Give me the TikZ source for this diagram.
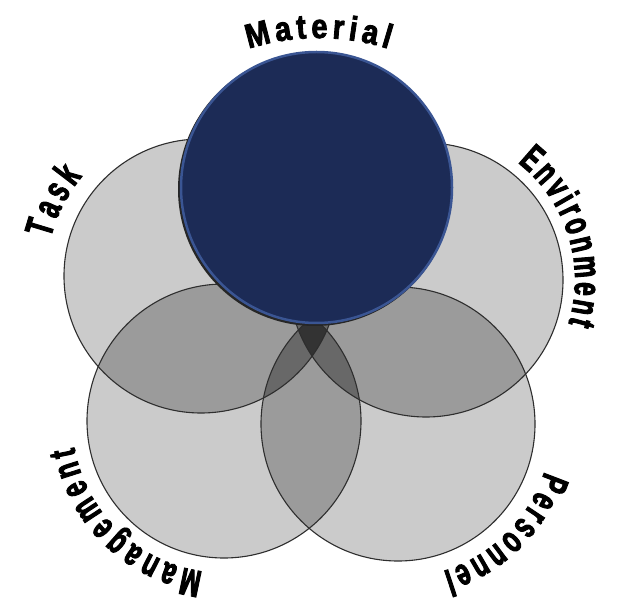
\documentclass[tikz,border=0pt]{standalone}
\usepackage{fontspec}
\usetikzlibrary{decorations.text}
\newfontfamily\lblA{Liberation Sans}[FakeStretch=0.85, FakeBold=2.5]
\newfontfamily\lblB{Liberation Sans}[FakeStretch=0.64, FakeBold=2.5]
\definecolor{navy}{HTML}{1C2B56}
\definecolor{navyedge}{HTML}{3A5593}
\definecolor{ringc}{HTML}{2E2E2E}
\definecolor{gA}{HTML}{CBCBCB}
\definecolor{gB}{HTML}{9B9B9B}
\definecolor{gC}{HTML}{686868}
\definecolor{gD}{HTML}{333333}
\tikzset{
  ringline/.style={draw=ringc, line width=1.1pt},
  labelarc/.style={decorate, decoration={text along path, text align={fit to path}, text={#1}}}
}
\begin{document}
\begin{tikzpicture}[x=1pt,y=1pt]
\useasboundingbox (0,0) rectangle (618,603);
\fill[white] (0,0) rectangle (618,603);
\coordinate (cT) at (201,327);
\coordinate (cE) at (426,323);
\coordinate (cM) at (224,182);
\coordinate (cP) at (398,179);
\coordinate (cMat) at (316.5,415.5);
\coordinate (cSh) at (314.8,413.8);
\def\ciT{(cT) circle[radius=137pt]}
\def\ciE{(cE) circle[radius=137pt]}
\def\ciM{(cM) circle[radius=137pt]}
\def\ciP{(cP) circle[radius=137pt]}
% single
\fill[gA] \ciT; \fill[gA] \ciE; \fill[gA] \ciM; \fill[gA] \ciP;
% pairs
\begin{scope}\clip \ciT; \fill[gB] \ciE; \fill[gB] \ciM; \fill[gB] \ciP; \end{scope}
\begin{scope}\clip \ciE; \fill[gB] \ciM; \fill[gB] \ciP; \end{scope}
\begin{scope}\clip \ciM; \fill[gB] \ciP; \end{scope}
% triples
\begin{scope}\clip \ciT; \clip \ciE; \fill[gC] \ciM; \fill[gC] \ciP; \end{scope}
\begin{scope}\clip \ciT; \clip \ciM; \fill[gC] \ciP; \end{scope}
\begin{scope}\clip \ciE; \clip \ciM; \fill[gC] \ciP; \end{scope}
% quadruple
\begin{scope}\clip \ciT; \clip \ciE; \clip \ciM; \fill[gD] \ciP; \end{scope}
% outlines
\path[ringline] \ciT; \path[ringline] \ciE; \path[ringline] \ciM; \path[ringline] \ciP;
% material
\fill[black!85] (cSh) circle[radius=136.8pt];
\draw[navyedge, line width=2.5pt, fill=navy] (cMat) circle[radius=135.5pt];
% labels
\path[labelarc={|\lblA\bfseries\fontsize{34}{34}\selectfont|Material}]
  ([shift={(318.5,333)}]107.5:232pt) arc[start angle=107.5, end angle=72.5, radius=232pt];
\path[labelarc={|\lblB\bfseries\fontsize{39}{39}\selectfont|Task}]
  ([shift={(cT)}]166:155pt) arc[start angle=166, end angle=140, radius=155pt];
\path[labelarc={|\lblB\bfseries\fontsize{38}{38}\selectfont|Environment}]
  ([shift={(cE)}]52:149pt) arc[start angle=52, end angle=-17, radius=149pt];
\path[labelarc={|\lblB\bfseries\fontsize{38}{38}\selectfont|Management}]
  ([shift={(cM)}]-98:152pt) arc[start angle=-98, end angle=-170, radius=152pt];
\path[labelarc={|\lblB\bfseries\fontsize{38}{38}\selectfont|Personnel}]
  ([shift={(cP)}]-18:154pt) arc[start angle=-18, end angle=-73, radius=154pt];
\end{tikzpicture}
\end{document}
